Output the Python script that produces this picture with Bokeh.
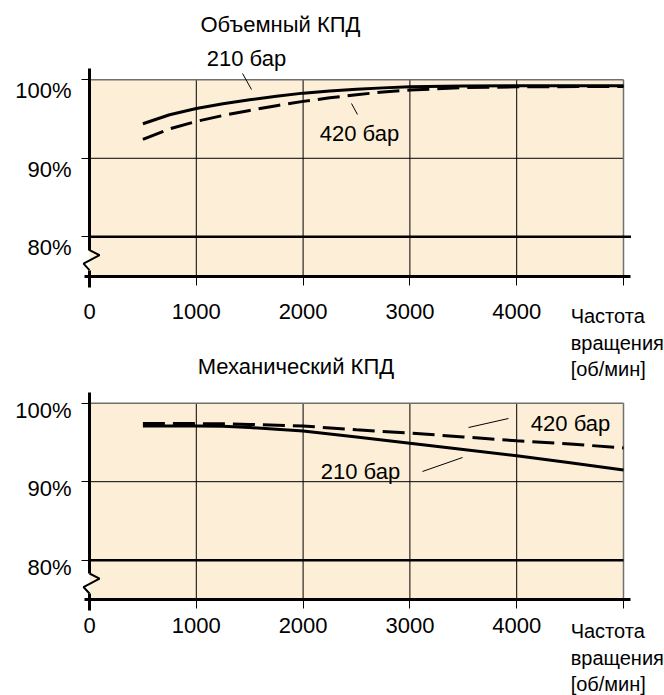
from bokeh.plotting import figure
from bokeh.models import Range1d, LinearAxis, FixedTicker, Label, BoxAnnotation
from bokeh.core.properties import value
from bokeh.embed import file_html
from bokeh.resources import INLINE

# ---------------- data ----------------
RPM_VOL = [500, 750, 1000, 1250, 1500, 1750, 2000, 2250, 2500, 2750, 3000, 3500, 4000, 5000]
VOL_210 = [94.4, 95.55, 96.35, 96.95, 97.45, 97.9, 98.3, 98.57, 98.8, 98.97, 99.1, 99.2, 99.25, 99.25]
VOL_420 = [92.4, 93.75, 94.7, 95.45, 96.1, 96.7, 97.25, 97.7, 98.1, 98.45, 98.7, 99.0, 99.1, 99.15]

RPM_MECH = [500, 1000, 1250, 1500, 2000, 2500, 3000, 3500, 4000, 4500, 5000]
MECH_210 = [97.1, 97.1, 97.05, 96.9, 96.45, 95.7, 94.9, 94.1, 93.3, 92.4, 91.5]
MECH_420 = [97.4, 97.4, 97.38, 97.3, 97.1, 96.6, 96.2, 95.7, 95.2, 94.8, 94.3]

X_TICKS = [0, 1000, 2000, 3000, 4000, 5000]
X_TICK_LABELS = ["0", "1000", "2000", "3000", "4000", ""]
Y_TICKS = [80, 90, 100]
Y_TICK_LABELS = ["80%", "90%", "100%"]

TITLE_VOL = "Объемный КПД"
TITLE_MECH = "Механический КПД"
LABEL_210 = "210 бар"
LABEL_420 = "420 бар"
X_NAME = "Частота\nвращения\n[об/мин]"

X_MIN, X_MAX = 0, 5000
Y_MIN, Y_MAX = 75, 100

# ---------------- style ----------------
FONT = "Liberation Sans"
FS = "22px"
BG = "#FDEFD7"
BORDER = "#707070"

p = figure(width=664, height=695, output_backend="svg", toolbar_location=None,
           x_axis_location=None, y_axis_location=None,
           x_range=Range1d(-833.3, 5383.9), y_range=Range1d(21.57, 110.10),
           min_border=0, outline_line_color=None,
           background_fill_color="white", border_fill_color="white")
p.extra_y_ranges = {"mech": Range1d(62.76, 151.30)}
p.xgrid.grid_line_color = None
p.ygrid.grid_line_color = None


def panel(rn, rpm, a210, a420, title, title_xy, lab210_xy, lead210, lab420_xy, lead420,
          name_xy, ylab_dy, xlab_standoff, h80_end):
    p.add_layout(BoxAnnotation(left=X_MIN, right=X_MAX, bottom=Y_MIN, top=Y_MAX,
                               fill_color=BG, fill_alpha=1, line_color=None,
                               level="underlay", y_range_name=rn))
    inner_x = X_TICKS[1:-1]
    n = len(inner_x)
    p.segment(x0=inner_x, x1=inner_x, y0=[Y_MIN] * n, y1=[Y_MAX] * n,
              line_color="black", line_width=1, y_range_name=rn)
    p.segment(x0=[X_MIN], x1=[X_MAX], y0=[Y_TICKS[1]], y1=[Y_TICKS[1]],
              line_color="black", line_width=1, y_range_name=rn)
    p.segment(x0=[X_MIN, X_MAX], x1=[X_MAX, X_MAX], y0=[Y_MAX, Y_MIN], y1=[Y_MAX, Y_MAX],
              line_color=BORDER, line_width=1.5, y_range_name=rn)
    p.segment(x0=[X_MIN], x1=[h80_end], y0=[Y_TICKS[0]], y1=[Y_TICKS[0]],
              line_color="black", line_width=2.5, y_range_name=rn)

    p.line(rpm, a210, line_color="black", line_width=3, y_range_name=rn)
    p.line(rpm, a420, line_color="black", line_width=3, line_dash="22 8", y_range_name=rn)

    # axis break (zigzag) on the y axis
    p.line(x=[0, 94, -56, 0], y=[78.3, 77.66, 76.58, 75.75], line_color="black",
           line_width=2, y_range_name=rn)

    yax = LinearAxis(y_range_name=rn, fixed_location=X_MIN, bounds=(78.3, 101.4),
                     ticker=FixedTicker(ticks=Y_TICKS),
                     major_label_overrides={t: "" for t in Y_TICKS},
                     axis_line_width=3, axis_line_color="black",
                     major_tick_in=0, major_tick_out=8, major_tick_line_width=1,
                     minor_tick_in=0, minor_tick_out=0)
    p.add_layout(yax, "left")
    ystub = LinearAxis(y_range_name=rn, fixed_location=X_MIN, bounds=(73.6, 75.75),
                       ticker=FixedTicker(ticks=[]), axis_line_width=3,
                       axis_line_color="black", major_tick_out=0, minor_tick_out=0)
    p.add_layout(ystub, "left")

    xax = LinearAxis(y_range_name=rn, fixed_location=Y_MIN, bounds=(-50, 5070),
                     ticker=FixedTicker(ticks=X_TICKS),
                     major_label_overrides=dict(zip(X_TICKS, X_TICK_LABELS)),
                     axis_line_width=3, axis_line_color="black",
                     major_tick_in=0, major_tick_out=9, major_tick_line_width=1,
                     minor_tick_in=0, minor_tick_out=0,
                     major_label_standoff=xlab_standoff,
                     major_label_text_font=FONT, major_label_text_font_size=FS,
                     major_label_text_color="black")
    p.add_layout(xax, "below")

    p.text(x=[X_MIN] * len(Y_TICKS), y=Y_TICKS, text=Y_TICK_LABELS,
           x_offset=-18, y_offset=ylab_dy, text_align="right", text_baseline="middle",
           text_font=value(FONT), text_font_size=value(FS), text_color="black",
           y_range_name=rn)

    def lab(xy, txt, align="center", fs=FS):
        p.add_layout(Label(x=xy[0], y=xy[1], text=txt, y_range_name=rn,
                           text_font=FONT, text_font_size=fs, text_color="black",
                           text_align=align, text_baseline="middle",
                           text_line_height=1.2))

    lab(title_xy, title)
    lab(lab210_xy, LABEL_210)
    lab(lab420_xy, LABEL_420)
    lab(name_xy, X_NAME, align="left", fs="20px")
    p.segment(x0=[lead210[0], lead420[0]], y0=[lead210[1], lead420[1]],
              x1=[lead210[2], lead420[2]], y1=[lead210[3], lead420[3]],
              line_color="black", line_width=1, y_range_name=rn)


panel("default", RPM_VOL, VOL_210, VOL_420, TITLE_VOL, (1788, 107.04),
      (1470, 102.71), (1433, 100.80, 1517, 98.76),
      (2528, 93.16), (2453, 96.98, 2509, 95.58),
      (4505, 66.53), 11, 19, 5070)

panel("mech", RPM_MECH, MECH_210, MECH_420, TITLE_MECH, (1933, 104.68),
      (2537, 91.36), (3118, 91.30, 3493, 93.08),
      (4504, 97.41), (3549, 96.90, 3923, 98.05),
      (4505, 67.58), 7, 10, 5000)

open("out.html", "w").write(file_html(p, INLINE))
